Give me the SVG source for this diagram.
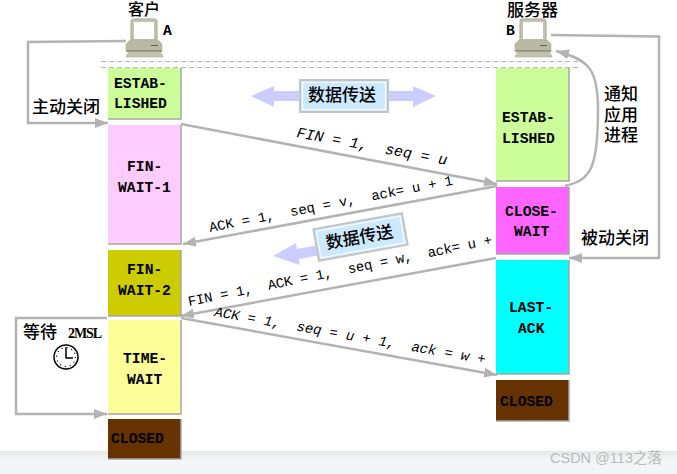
<svg xmlns="http://www.w3.org/2000/svg" width="677" height="474" viewBox="0 0 677 474">
<style>
.st{fill:none;stroke:#a6a6a6;stroke-width:1.500}
.t{font-family:"Liberation Mono","Courier New",monospace;font-weight:bold;font-size:14.700px;fill:#000}
.l{font-family:"Liberation Mono","Courier New",monospace;font-size:14px;fill:#000}
.z{font-family:"Liberation Serif","Noto Sans CJK SC",sans-serif;font-size:17px;font-weight:500;fill:#000}
.c{fill:none;stroke:#b3b3b3;stroke-width:2.500}
.d{fill:none;stroke:#b5b5b5;stroke-width:1;stroke-dasharray:5 3}
.db{fill:#cce9ff;stroke:#c4c4c4;stroke-width:2}
.db2{fill:none;stroke:#fff;stroke-width:1}
.fa{fill:#ccccff}
</style>
<defs>
<marker id="arr" markerUnits="userSpaceOnUse" markerWidth="14" markerHeight="10" refX="13" refY="5" orient="auto"><path d="M0 0L13 5L0 10Z" fill="#b3b3b3"/></marker>
<linearGradient id="band" x1="0" y1="0" x2="0" y2="1"><stop offset="0" stop-color="#e6e7e9"/><stop offset="1" stop-color="#f4f5f7"/></linearGradient>
<g id="pc">
<path d="M5 2Q5 0 8 0H28Q31 0 31 2V23H5Z" fill="#c4c3ad" stroke="#a8a792" stroke-width="1"/>
<rect x="8" y="3" width="20" height="17" fill="#fff"/>
<path d="M4 21H32L36 25V33H0V25Z" fill="#bab9a3" stroke="#a8a792" stroke-width="0.500"/>
<rect x="25" y="26" width="7" height="1" fill="#5f5e50"/>
<rect x="1" y="31" width="35" height="1.500" fill="#8f8e7c"/>
<path d="M3 33H34L37 37V38H0V37Z" fill="#c4c3ad" stroke="#a8a792" stroke-width="0.500"/>
</g>
</defs>
<rect width="677" height="474" fill="#fff"/>
<rect x="0" y="451" width="677" height="9" fill="url(#band)"/>
<rect x="0" y="460" width="677" height="14" fill="#f4f5f7"/>

<path class="d" d="M101 61.500H580M101 67.500H580"/>

<g id="connectors">
<path class="c" marker-end="url(#arr)" d="M126 41L28 42V123H108"/>
<path class="c" marker-end="url(#arr)" d="M181 124L497 184"/>
<path class="c" marker-end="url(#arr)" d="M497 186L183 244"/>
<path class="c" marker-end="url(#arr)" d="M496 258L181 316"/>
<path class="c" marker-end="url(#arr)" d="M181 318L497 375"/>
<path class="c" marker-end="url(#arr)" d="M551 35L659 36.500V258H569"/>
<path class="c" marker-end="url(#arr)" d="M565 186C590 180 598 170 598 110C598 70 590 60 556 51"/>
<path class="c" marker-end="url(#arr)" d="M107 318H16V414H107"/>
</g>

<g id="client"><use href="#pc" x="126" y="19"/>
<text class="z" x="128" y="15" style="font-size:16px">客户</text>
<text class="t" x="163" y="35">A</text></g>
<g id="server"><use href="#pc" x="515" y="19"/>
<text class="z" x="507" y="15.500">服务器</text>
<text class="t" x="506" y="35">B</text></g>

<g id="n-established-a"><rect x="108" y="68" width="73" height="51" fill="#ccff99"/><path class="st" d="M181 68V119H108"/>
<text class="t" x="114" y="88">ESTAB-</text><text class="t" x="114" y="108">LISHED</text></g>
<g id="n-fin-wait-1"><rect x="108" y="125" width="73" height="119" fill="#ffccff"/><path class="st" d="M181 125V244H108"/>
<text class="t" x="127" y="171">FIN-</text><text class="t" x="118" y="192">WAIT-1</text></g>
<g id="n-fin-wait-2"><rect x="108" y="250" width="73" height="66" fill="#cccc00"/><path class="st" d="M181 250V316H108"/>
<text class="t" x="127" y="274">FIN-</text><text class="t" x="118" y="295">WAIT-2</text></g>
<g id="n-time-wait"><rect x="108" y="320" width="73" height="94" fill="#ffff99"/><path class="st" d="M181 320V414H108"/>
<text class="t" x="123" y="363">TIME-</text><text class="t" x="127" y="384">WAIT</text></g>
<g id="n-closed-a"><rect x="108" y="419" width="73" height="40" fill="#663300"/><path class="st" d="M181 419V459H108"/>
<text class="t" x="111" y="443">CLOSED</text></g>

<g id="n-established-b"><rect x="496" y="68" width="73" height="113" fill="#ccff99"/><path class="st" d="M569 68V181H496"/>
<text class="t" x="502" y="122">ESTAB-</text><text class="t" x="502" y="143">LISHED</text></g>
<g id="n-close-wait"><rect x="496" y="187" width="73" height="67" fill="#ff66ff"/><path class="st" d="M569 187V254H496"/>
<text class="t" x="505" y="216">CLOSE-</text><text class="t" x="514" y="236">WAIT</text></g>
<g id="n-last-ack"><rect x="496" y="260" width="73" height="114" fill="#00ffff"/><path class="st" d="M569 260V374H496"/>
<text class="t" x="509" y="312">LAST-</text><text class="t" x="518" y="333">ACK</text></g>
<g id="n-closed-b"><rect x="496" y="380" width="73" height="41" fill="#663300"/><path class="st" d="M569 380V421H496"/>
<text class="t" x="500" y="406">CLOSED</text></g>

<g id="labels">
<text class="z" x="32" y="113">主动关闭</text>
<text class="z" x="604" y="100">通知</text><text class="z" x="604" y="121">应用</text><text class="z" x="604" y="141">进程</text>
<text class="z" x="581" y="244">被动关闭</text>
<text class="z" x="23" y="338">等待</text><text x="68" y="338" font-family="'Liberation Serif',serif" font-weight="bold" font-size="14" textLength="34">2MSL</text>
<text class="l" transform="translate(296 137) rotate(10.500)" xml:space="preserve" style="font-size:15px;font-style:italic">FIN = 1,  seq = u</text>
<text class="l" transform="translate(210 232) rotate(-11)" xml:space="preserve" textLength="248">ACK = 1,  seq = v,  ack= u + 1</text>
<text class="l" transform="translate(189 306) rotate(-11.500)" xml:space="preserve" textLength="310">FIN = 1,  ACK = 1,  seq = w,  ack= u +</text>
<text class="l" transform="translate(214 316) rotate(10)" xml:space="preserve" textLength="275" style="font-style:italic">ACK = 1,  seq = u + 1,  ack = w +</text>
</g>

<g id="clock"><circle cx="66" cy="357" r="12" fill="#fff" stroke="#000" stroke-width="1.500"/>
<circle cx="66" cy="357" r="9.500" fill="none" stroke="#000" stroke-width="1.200" stroke-dasharray="1 4"/>
<path d="M66 347V358H73" fill="none" stroke="#000" stroke-width="1.500"/></g>

<g id="data-top">
<path class="fa" d="M251 96L274 86V91H299V101H274V107Z"/>
<path class="fa" d="M436 96L413 86V91H388V101H413V107Z"/>
<rect class="db" x="300" y="80" width="88" height="32"/><rect class="db2" x="302.500" y="82.500" width="83" height="27"/>
<text class="z" x="308" y="101">数据传送</text></g>
<g id="data-bottom">
<path class="fa" d="M273 256L296 243L297 249L318 245L320 255L299 259L300 265Z"/>
<g transform="translate(360.500 237) rotate(-10.200)"><rect class="db" x="-45" y="-16" width="90" height="32"/><rect class="db2" x="-42.500" y="-13.500" width="85" height="27"/>
<text class="z" x="-35" y="6">数据传送</text></g></g>

<text x="550" y="463" font-family="'Liberation Sans','Noto Sans CJK SC',sans-serif" font-size="14.500" fill="#b8babe">CSDN @113之落</text>
</svg>
